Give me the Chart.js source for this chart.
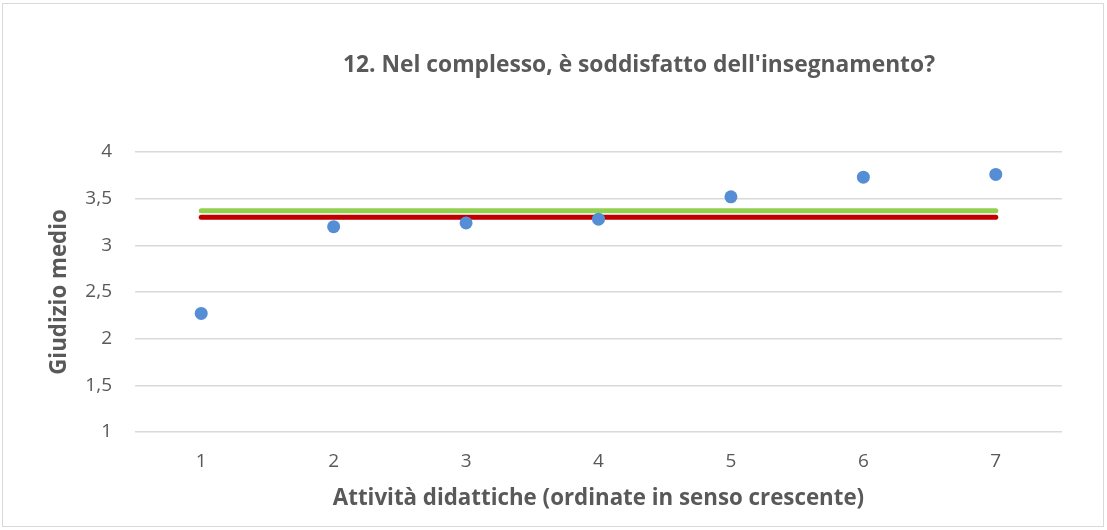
<!DOCTYPE html>
<html>
<head>
<meta charset="utf-8">
<script src="https://cdn.jsdelivr.net/npm/chart.js@4/dist/chart.umd.min.js"></script>
<style>
  body { margin: 0; background: #fff; }
  #wrap { width: 1107px; height: 530px; position: relative; }
</style>
</head>
<body>
<div id="wrap"><canvas id="myChart" width="1107" height="530"></canvas></div>
<script>
const categories = ["1", "2", "3", "4", "5", "6", "7"];
const giudizi = [2.27, 3.2, 3.24, 3.28, 3.52, 3.73, 3.76];
const mediaVerde = [3.37, 3.37, 3.37, 3.37, 3.37, 3.37, 3.37];
const mediaRossa = [3.3, 3.3, 3.3, 3.3, 3.3, 3.3, 3.3];
const yTicks = [1, 1.5, 2, 2.5, 3, 3.5, 4];

const FONT = '"Open Sans"';
const TXT = '#595959';

// border + title drawn by hand, Excel style
const frame = {
    id: 'frame',
    beforeDraw(chart) {
        const c = chart.ctx;
        c.save();
        c.fillStyle = '#fff';
        c.fillRect(0, 0, chart.width, chart.height);
        c.strokeStyle = '#d9d9d9';
        c.lineWidth = 1;
        c.strokeRect(2.5, 3.5, 1101, 523);
        c.restore();
    },
    afterDraw(chart) {
        const c = chart.ctx;
        c.save();
        c.font = 'bold 22.8px ' + FONT;
        c.fillStyle = TXT;
        c.textAlign = 'center';
        c.textBaseline = 'middle';
        c.fillText("12. Nel complesso, è soddisfatto dell'insegnamento?", 639, 66);
        c.restore();
    }
};

let ctx = document.getElementById('myChart').getContext('2d');
let myChart = new Chart(ctx, {
    type: 'line',
    data: {
        labels: categories,
        datasets: [{
            label: 'Giudizio medio',
            data: giudizi,
            showLine: false,
            pointRadius: 6.5,
            pointHoverRadius: 6.5,
            pointBackgroundColor: '#558ed5',
            pointBorderWidth: 0,
            borderColor: '#558ed5',
            order: 0
        }, {
            label: 'Media 1',
            data: mediaVerde,
            borderColor: '#92d050',
            borderWidth: 5,
            borderCapStyle: 'round',
            pointRadius: 0,
            order: 1
        }, {
            label: 'Media 2',
            data: mediaRossa,
            borderColor: '#c00000',
            borderWidth: 5,
            borderCapStyle: 'round',
            pointRadius: 0,
            order: 2
        }]
    },
    plugins: [frame],
    options: {
        responsive: false,
        animation: false,
        layout: { padding: { left: 0, top: 152, right: 45, bottom: 0 } },
        plugins: {
            legend: { display: false },
            tooltip: { enabled: false }
        },
        scales: {
            x: {
                offset: true,
                grid: { display: false, drawTicks: false },
                border: { display: false },
                ticks: { color: TXT, font: { family: FONT, size: 19 }, padding: 18 },
                title: {
                    display: true,
                    text: 'Attività didattiche (ordinate in senso crescente)',
                    color: TXT,
                    font: { family: FONT, size: 22.3, weight: 'bold' },
                    padding: { top: 0, bottom: 17.5 }
                },
                afterFit(s) { s.height = 98; }
            },
            y: {
                min: 1,
                max: 4,
                afterBuildTicks(s) { s.ticks = yTicks.map(v => ({ value: v })); },
                grid: { color: '#d9d9d9', lineWidth: 1.5, drawTicks: false },
                border: { display: false },
                ticks: {
                    color: TXT,
                    font: { family: FONT, size: 19 },
                    padding: 23,
                    callback: v => String(v).replace('.', ',')
                },
                title: {
                    display: true,
                    text: 'Giudizio medio',
                    color: TXT,
                    font: { family: FONT, size: 22.3, weight: 'bold' },
                    padding: { top: 46.5, bottom: 0 }
                },
                afterFit(s) { s.width = 135; }
            }
        }
    }
});
</script>
</body>
</html>
